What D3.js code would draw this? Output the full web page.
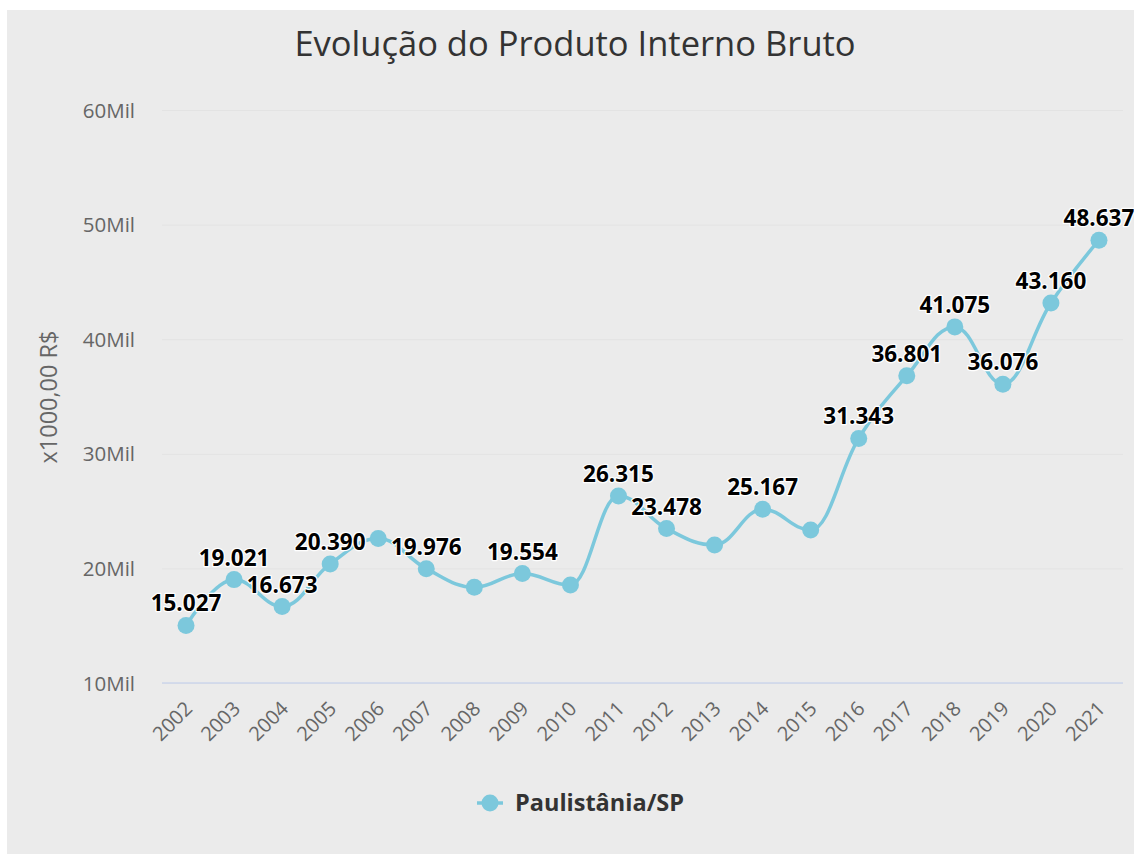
<!DOCTYPE html>
<html>
<head>
<meta charset="utf-8">
<script src="https://cdn.jsdelivr.net/npm/d3@7"></script>
<style>
  html, body { margin: 0; padding: 0; background: #ffffff; }
  svg { display: block; }
</style>
</head>
<body>
<svg id="chart" width="1134" height="854"></svg>
<script>
// ---- data ----
const years = ["2002","2003","2004","2005","2006","2007","2008","2009","2010","2011",
               "2012","2013","2014","2015","2016","2017","2018","2019","2020","2021"];
const pib = [15027, 19021, 16673, 20390, 22600, 19976, 18350, 19554, 18550, 26315,
             23478, 22050, 25167, 23350, 31343, 36801, 41075, 36076, 43160, 48637];
// labels that the original chart displays (others hidden by overlap)
const labelShown = [true, true, true, true, false, true, false, true, false, true,
                    true, false, true, false, true, true, true, true, true, true];
const yTicks = [10000, 20000, 30000, 40000, 50000, 60000];
const seriesName = "Paulistânia/SP";
const titleText = "Evolução do Produto Interno Bruto";
const yTitle = "x1000,00 R$";

// ---- setup ----
const W = 1134, H = 854;
const color = "#7cc8dc";
const font = "'Open Sans', 'Noto Sans', sans-serif";
const svg = d3.select("#chart");

svg.append("rect").attr("x", 7).attr("y", 10).attr("width", W - 7).attr("height", H - 10)
   .attr("fill", "#ebebeb");

const x = d3.scalePoint().domain(years).range([162, 1123]).padding(0.5);
const y = d3.scaleLinear().domain([10000, 60000]).range([683, 110]);

const locale = d3.formatLocale({decimal: ",", thousands: ".", grouping: [3], currency: ["R$", ""]});
const fmt = locale.format(",d");

// title
svg.append("text").attr("x", 575).attr("y", 56).attr("text-anchor", "middle")
   .attr("font-family", font).attr("font-size", 34.5).attr("fill", "#333333")
   .text(titleText);

// grid + y axis
const yAxis = d3.axisLeft(y).tickValues(yTicks).tickSize(-(1123 - 162))
   .tickFormat(d => (d / 1000) + "Mil").tickPadding(27);
const gy = svg.append("g").attr("transform", "translate(162,0)").call(yAxis);
gy.select(".domain").remove();
gy.selectAll(".tick line").attr("stroke", "#e3e3e3").attr("stroke-width", 1);
gy.selectAll(".tick text").attr("font-family", font).attr("font-size", 20.5)
   .attr("fill", "#666666").attr("dy", "0.35em");

// x axis
const xAxis = d3.axisBottom(x).tickSize(0).tickPadding(0);
const gx = svg.append("g").attr("transform", "translate(0,683)").call(xAxis);
gx.select(".domain").attr("stroke", "#ccd6eb").attr("stroke-width", 1.5)
   .attr("d", "M162,0H1123");
gx.selectAll(".tick text").attr("font-family", font).attr("font-size", 20)
   .attr("fill", "#666666")
   .attr("text-anchor", "end")
   .attr("transform", "translate(2,22) rotate(-45)")
   .attr("dy", "0.35em").attr("y", 0);

// y axis title
svg.append("text").attr("transform", "translate(49,397) rotate(-90)")
   .attr("text-anchor", "middle").attr("dy", "0.35em").attr("font-family", font).attr("font-size", 23.5)
   .attr("fill", "#666666").text(yTitle);

// ---- Highcharts-like spline ----
const pts = years.map((yr, i) => ({px: x(yr), py: y(pib[i]), v: pib[i], i}));
function splinePath(points) {
  const p = d3.path();
  const smoothing = 1.5, denom = smoothing + 1;
  points.forEach((pt, i) => {
    if (i === 0) { p.moveTo(pt.px, pt.py); return; }
    const last = points[i - 1], next = points[i + 1];
    let lcx, lcy, rcx, rcy;
    if (next) {
      lcx = (smoothing * pt.px + last.px) / denom;
      lcy = (smoothing * pt.py + last.py) / denom;
      rcx = (smoothing * pt.px + next.px) / denom;
      rcy = (smoothing * pt.py + next.py) / denom;
      let corr = 0;
      if (rcx !== lcx) corr = ((rcy - lcy) * (rcx - pt.px)) / (rcx - lcx) + pt.py - rcy;
      lcy += corr; rcy += corr;
      if (lcy > last.py && lcy > pt.py) { lcy = Math.max(last.py, pt.py); rcy = 2 * pt.py - lcy; }
      else if (lcy < last.py && lcy < pt.py) { lcy = Math.min(last.py, pt.py); rcy = 2 * pt.py - lcy; }
      if (rcy > next.py && rcy > pt.py) { rcy = Math.max(next.py, pt.py); lcy = 2 * pt.py - rcy; }
      else if (rcy < next.py && rcy < pt.py) { rcy = Math.min(next.py, pt.py); lcy = 2 * pt.py - rcy; }
      pt.rcx = rcx; pt.rcy = rcy;
    }
    p.bezierCurveTo(
      last.rcx !== undefined ? last.rcx : last.px,
      last.rcy !== undefined ? last.rcy : last.py,
      lcx !== undefined ? lcx : pt.px,
      lcy !== undefined ? lcy : pt.py,
      pt.px, pt.py);
  });
  return p.toString();
}

svg.append("path").attr("d", splinePath(pts)).attr("fill", "none")
   .attr("stroke", color).attr("stroke-width", 3.5).attr("stroke-linejoin", "round");

svg.append("g").selectAll("circle").data(pts).join("circle")
   .attr("cx", d => d.px).attr("cy", d => d.py).attr("r", 8.5).attr("fill", color);

// data labels
svg.append("g").selectAll("text").data(pts.filter(d => labelShown[d.i])).join("text")
   .attr("x", d => d.px).attr("y", d => d.py - 14).attr("text-anchor", "middle")
   .attr("font-family", font).attr("font-size", 22.5).attr("font-weight", "bold")
   .attr("fill", "#000000").attr("stroke", "#ffffff").attr("stroke-width", 2.5)
   .attr("stroke-linejoin", "round").attr("paint-order", "stroke")
   .text(d => fmt(d.v));

// legend
const lg = svg.append("g");
lg.append("line").attr("x1", 477).attr("x2", 503).attr("y1", 803).attr("y2", 803)
  .attr("stroke", color).attr("stroke-width", 3.5);
lg.append("circle").attr("cx", 490).attr("cy", 803).attr("r", 8.5).attr("fill", color);
lg.append("text").attr("x", 515).attr("y", 803).attr("dy", "0.35em")
  .attr("font-family", font).attr("font-size", 23.5).attr("font-weight", "bold")
  .attr("fill", "#333333").text(seriesName);
</script>
</body>
</html>
